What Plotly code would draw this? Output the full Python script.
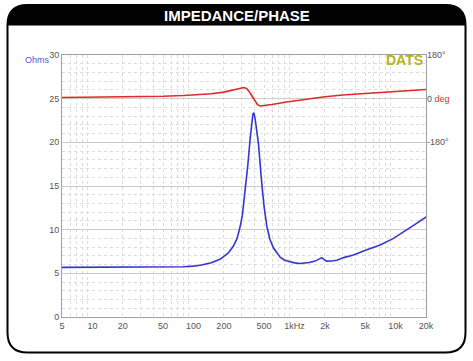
import math
import plotly.graph_objects as go

# ---- data ----
imp_freq = [5, 10, 20, 50, 80, 100, 120, 150, 183, 220, 248, 270, 289, 305, 324, 345, 363, 375, 386, 393,
            400, 412, 425, 440, 474, 500, 532, 570, 620, 668, 720, 800, 903, 1000, 1136, 1225, 1400, 1600,
            1750, 1860, 1950, 2090, 2300, 2630, 3060, 3830, 5200, 7030, 9530, 12900, 16000, 20000]
imp_ohms = [5.68, 5.68, 5.68, 5.7, 5.75, 5.82, 5.95, 6.2, 6.6, 7.3, 8.1, 9.0, 10.3, 11.7, 14.2, 17.4, 20.3, 22.0, 23.1, 23.4,
            23.2, 22.3, 21.0, 19.8, 15.3, 12.6, 10.4, 8.9, 7.9, 7.3, 6.85, 6.5, 6.3, 6.2, 6.12, 6.15, 6.25, 6.4,
            6.6, 6.8, 6.6, 6.4, 6.42, 6.5, 6.8, 7.1, 7.7, 8.25, 9.0, 9.95, 10.7, 11.45]

ph_freq = [5, 10, 20, 50, 80, 100, 150, 200, 250, 290, 315, 335, 355, 375, 392, 410, 430, 456, 500, 600,
           800, 1000, 1200, 1500, 2000, 3000, 5000, 10000, 20000]
ph_deg = [5, 6, 7, 10, 13, 15, 20, 27, 36, 44, 46, 42, 30, 14, 0, -14, -25, -30, -29, -24,
          -15, -9, -3, 2, 8, 15, 22, 30, 38]

x_tickvals = [5, 10, 20, 50, 100, 200, 500, 1000, 2000, 5000, 10000, 20000]
x_ticktext = ["5", "10", "20", "50", "100", "200", "500", "1kHz", "2k", "5k", "10k", "20k"]
y_tickvals = [0, 5, 10, 15, 20, 25, 30]
ph_tickvals = [180, 0, -180]
ph_ticktext = ["180°", "0 <span style='color:#e03030'>deg</span>", "-180°"]

W, H = 473, 361
FONT = "Liberation Sans, Arial, sans-serif"

def px(x):
    return x / W

def py(y):
    return 1 - y / H

minor_x = [m * 10 ** e for e in range(0, 5) for m in range(2, 10) if 5 <= m * 10 ** e <= 20000]

fig = go.Figure()
fig.add_trace(go.Scatter(x=imp_freq, y=imp_ohms, mode="lines",
                         line=dict(color="#3535d5", width=1.6), hoverinfo="skip"))
fig.add_trace(go.Scatter(x=ph_freq, y=ph_deg, mode="lines", yaxis="y2",
                         line=dict(color="#e02828", width=1.6), hoverinfo="skip"))

grid_major = "#cccccc"
grid_minor = "#dcdcdc"
tick_color = "#555555"

fig.update_layout(
    width=W, height=H,
    margin=dict(l=0, r=0, t=0, b=0, pad=0, autoexpand=False),
    paper_bgcolor="white", plot_bgcolor="white",
    showlegend=False,
    font=dict(family=FONT, size=9, color=tick_color),
    xaxis=dict(
        type="log", domain=[px(62), px(426)], automargin=False,
        range=[math.log10(5), math.log10(20000)],
        tickvals=x_tickvals, ticktext=x_ticktext, ticks="", ticklen=0,
        showgrid=False, zeroline=False,
        showline=True, linecolor="#a0a0a0", linewidth=1, mirror=True,
        minor=dict(tickvals=minor_x, showgrid=True, gridcolor=grid_minor, griddash="dot", gridwidth=1, ticks=""),
        tickfont=dict(size=9, color=tick_color),
    ),
    yaxis=dict(
        domain=[py(317), py(55)], range=[0, 30], automargin=False,
        tickvals=y_tickvals, ticks="", showgrid=True, gridcolor=grid_major, gridwidth=1,
        zeroline=False, showline=True, linecolor="#a0a0a0", linewidth=1, mirror=True,
        minor=dict(dtick=1, showgrid=True, gridcolor=grid_minor, griddash="dot", gridwidth=1, ticks=""),
        tickfont=dict(size=9, color=tick_color),
    ),
    yaxis2=dict(
        overlaying="y", side="right", range=[-900, 180], automargin=False,
        tickvals=ph_tickvals, ticktext=ph_ticktext, ticks="",
        showgrid=False, zeroline=False, showline=False,
        tickfont=dict(size=9, color=tick_color),
    ),
)

# decade gridlines (solid), shapes on log axis use log10 values
shapes = []
for d in [1, 2, 3, 4]:
    shapes.append(dict(type="line", xref="x", yref="y", x0=d, x1=d, y0=0, y1=30,
                       line=dict(color=grid_major, width=1), layer="below"))

# frame and title bar
L, R, T, B, r = 7.5, 465.5, 5, 352.5, 20
border = (f"M {px(L + r)},{py(T)} L {px(R - r)},{py(T)} Q {px(R)},{py(T)} {px(R)},{py(T + r)} "
          f"L {px(R)},{py(B - r)} Q {px(R)},{py(B)} {px(R - r)},{py(B)} "
          f"L {px(L + r)},{py(B)} Q {px(L)},{py(B)} {px(L)},{py(B - r)} "
          f"L {px(L)},{py(T + r)} Q {px(L)},{py(T)} {px(L + r)},{py(T)} Z")
bar = (f"M {px(L)},{py(25)} Q {px(L)},{py(T)} {px(L + r)},{py(T)} L {px(R - r)},{py(T)} "
       f"Q {px(R)},{py(T)} {px(R)},{py(25)} Z")
shapes.append(dict(type="path", xref="paper", yref="paper", path=bar, fillcolor="black",
                   line=dict(color="black", width=1), layer="below"))
shapes.append(dict(type="path", xref="paper", yref="paper", path=border,
                   line=dict(color="black", width=2)))
fig.update_layout(shapes=shapes)

fig.add_annotation(x=px(237), y=py(15), xref="paper", yref="paper", showarrow=False,
                   xanchor="center", yanchor="middle",
                   text="<b>IMPEDANCE/PHASE</b>", font=dict(family=FONT, size=15, color="white"))
fig.add_annotation(x=px(37), y=py(60), xref="paper", yref="paper", showarrow=False,
                   xanchor="center", yanchor="middle",
                   text="Ohms", font=dict(family=FONT, size=9, color="#5555dd"))
fig.add_annotation(x=px(404), y=py(60), xref="paper", yref="paper", showarrow=False,
                   xanchor="center", yanchor="middle",
                   text="<b>DATS</b>", font=dict(family=FONT, size=14, color="#b3b31a"))

fig.write_html("out.html", config={"displayModeBar": False},
               post_script="document.body.style.margin='0';document.body.style.overflow='hidden';")
